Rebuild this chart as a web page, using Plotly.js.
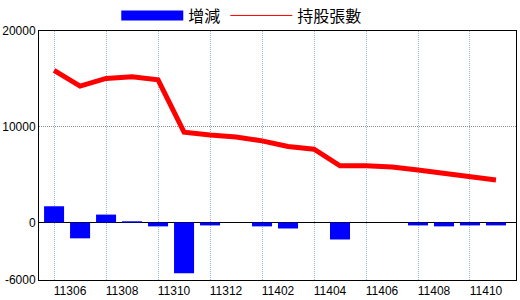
<!DOCTYPE html>
<html>
<head>
<meta charset="utf-8">
<script src="https://cdn.plot.ly/plotly-3.0.1.min.js"></script>
<style>
html,body{margin:0;padding:0;background:#fff;}
#chart{width:520px;height:300px;}
</style>
</head>
<body>
<div id="chart"></div>
<script>
var categories = ["11305","11306","11307","11308","11309","11310","11311","11312","11401","11402","11403","11404","11405","11406","11407","11408","11409","11410"];
var changeValues = [1700, -1650, 830, 130, -400, -5300, -300, 0, -400, -620, 0, -1770, 0, 0, -300, -400, -300, -300];
var holderValues = [15900, 14250, 15050, 15220, 14900, 9430, 9150, 8940, 8530, 7940, 7660, 5930, 5930, 5790, 5480, 5130, 4780, 4440];
var tickLabels = ["11306","11308","11310","11312","11402","11404","11406","11408","11410"];
var yTickVals = [20000, 10000, 0, -6000];
var yTickText = ["20000", "10000", "0", "-6000"];

var xIdx = categories.map(function(c, i){ return i; });
var tickIdx = tickLabels.map(function(t){ return categories.indexOf(t); });

var numFont = "Liberation Sans, Arial, sans-serif";
var cjkFont = "Noto Sans CJK TC, Noto Sans CJK SC, sans-serif";

var traces = [
  {type: "bar", x: xIdx, y: changeValues, name: "增減", marker: {color: "#0000FF", line: {width: 0}}, width: 0.77, showlegend: false, hoverinfo: "skip"},
  {type: "scatter", mode: "lines", x: xIdx, y: holderValues, name: "持股張數", line: {color: "#FF0000", width: 5}, showlegend: false, hoverinfo: "skip"},
  {type: "scatter", mode: "lines", x: [null], y: [null], name: "增減", line: {color: "#0000FF", width: 16}},
  {type: "scatter", mode: "lines", x: [null], y: [null], name: "持股張數", line: {color: "#FF0000", width: 1}}
];

var layout = {
  width: 520, height: 300,
  margin: {l: 39, r: 4, t: 31, b: 20, pad: 0, autoexpand: false},
  paper_bgcolor: "#fff", plot_bgcolor: "#fff",
  font: {family: numFont, size: 12, color: "#000"},
  showlegend: true,
  legend: {orientation: "h", x: 0.162, xanchor: "left", y: 1.062, yanchor: "middle",
           font: {family: cjkFont, size: 16, color: "#000"}, itemwidth: 62,
           bgcolor: "rgba(0,0,0,0)", borderwidth: 0, tracegroupgap: 0},
  xaxis: {
    type: "linear", range: [-0.58, 17.77],
    tickmode: "array", tickvals: tickIdx, ticktext: tickLabels,
    ticks: "", ticklabelshift: -10,
    showgrid: false, zeroline: false,
    showline: true, linecolor: "#000", linewidth: 1, mirror: true,
    tickfont: {family: numFont, size: 12, color: "#000"},
    minor: {tickmode: "linear", tick0: 0, dtick: 2, showgrid: true, gridcolor: "#94b8d0", griddash: "1px,1px", gridwidth: 1, ticks: ""}
  },
  yaxis: {
    range: [-6000, 20000],
    tickmode: "array", tickvals: yTickVals, ticktext: yTickText,
    ticks: "", showgrid: true, gridcolor: "#8c8c8c", griddash: "1px,1px", gridwidth: 1,
    zeroline: true, zerolinecolor: "#000", zerolinewidth: 1.5,
    showline: true, linecolor: "#000", linewidth: 1, mirror: true,
    tickfont: {family: numFont, size: 12, color: "#000"}
  }
};

Plotly.newPlot("chart", traces, layout, {staticPlot: true, displayModeBar: false});
</script>
</body>
</html>
